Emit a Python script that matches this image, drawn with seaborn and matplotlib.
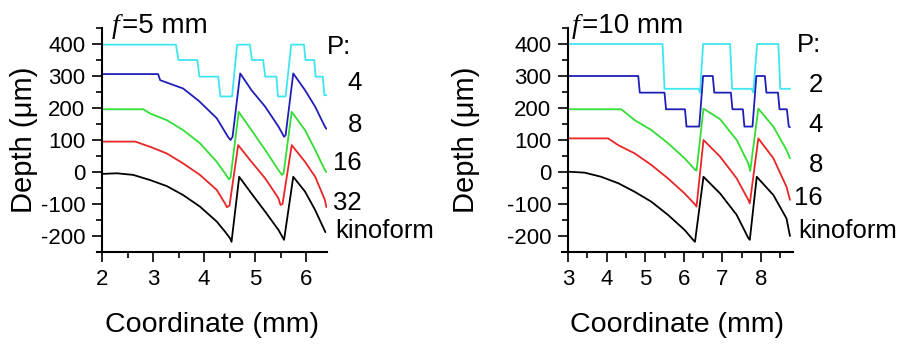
import matplotlib
matplotlib.use('Agg')
import matplotlib.pyplot as plt
import seaborn as sns
from matplotlib.ticker import MultipleLocator

# ---------------- data ----------------
# Left panel, f = 5 mm
l_kino_x = [2.00, 2.29, 2.61, 2.94, 3.27, 3.59, 3.92, 4.25, 4.41, 4.51, 4.54, 4.69, 4.93, 5.20, 5.46, 5.57, 5.75, 5.98, 6.18, 6.38]
l_kino_y = [-6, -4, -9, -25, -44, -72, -108, -155, -186, -207, -218, -15, -67, -124, -181, -212, -15, -61, -119, -188]
l_p32_x = [2.00, 2.65, 2.94, 3.27, 3.59, 3.92, 4.25, 4.41, 4.45, 4.50, 4.67, 4.93, 5.20, 5.46, 5.50, 5.54, 5.72, 5.98, 6.18, 6.37, 6.40]
l_p32_y = [95, 95, 79, 58, 27, -9, -56, -98, -110, -105, 84, 32, -20, -82, -103, -100, 84, 32, -15, -87, -110]
l_p16_x = [2.00, 2.81, 2.94, 3.27, 3.59, 3.92, 4.25, 4.41, 4.49, 4.52, 4.68, 4.93, 5.20, 5.46, 5.53, 5.56, 5.72, 5.98, 6.18, 6.37, 6.40]
l_p16_y = [196, 196, 183, 162, 131, 90, 32, -4, -23, -18, 188, 131, 69, 6, -9, -5, 188, 131, 69, 6, 0]
l_p8_x = [2.00, 3.10, 3.14, 3.59, 3.90, 4.25, 4.47, 4.52, 4.56, 4.71, 4.93, 5.20, 5.46, 5.57, 5.60, 5.75, 5.98, 6.18, 6.37, 6.40]
l_p8_y = [306, 306, 287, 261, 222, 168, 110, 100, 110, 308, 256, 204, 142, 110, 115, 308, 256, 204, 142, 135]
l_p4_x = [2.00, 3.45, 3.50, 3.87, 3.91, 4.28, 4.32, 4.55, 4.65, 4.90, 4.94, 5.16, 5.20, 5.42, 5.45, 5.60, 5.71, 5.96, 5.99, 6.16, 6.19, 6.33, 6.36, 6.40]
l_p4_y = [398, 398, 350, 350, 298, 298, 236, 236, 398, 398, 350, 350, 298, 298, 236, 236, 398, 398, 350, 350, 298, 298, 240, 240]

# Right panel, f = 10 mm
r_kino_x = [3.00, 3.43, 3.86, 4.30, 4.73, 5.16, 5.59, 6.02, 6.24, 6.29, 6.51, 6.94, 7.37, 7.67, 7.71, 7.89, 8.32, 8.66, 8.75]
r_kino_y = [1, -2, -15, -35, -62, -93, -134, -181, -212, -218, -15, -67, -134, -206, -212, -15, -72, -145, -200]
r_p16_x = [3.00, 4.04, 4.30, 4.73, 5.16, 5.59, 6.02, 6.28, 6.33, 6.51, 6.94, 7.37, 7.67, 7.71, 7.93, 8.32, 8.66, 8.75]
r_p16_y = [105, 105, 84, 58, 22, -20, -67, -100, -108, 100, 48, -20, -87, -98, 105, 43, -46, -87]
r_p8_x = [3.00, 4.38, 4.73, 5.16, 5.59, 6.02, 6.30, 6.33, 6.51, 6.94, 7.37, 7.67, 7.72, 7.93, 8.32, 8.66, 8.75]
r_p8_y = [196, 196, 162, 131, 90, 43, 6, 4, 198, 165, 100, 27, 3, 198, 142, 69, 43]
r_p4_x = [3.00, 4.82, 4.86, 5.50, 5.54, 6.03, 6.07, 6.40, 6.50, 6.75, 6.79, 7.22, 7.26, 7.53, 7.57, 7.78, 7.88, 8.10, 8.14, 8.44, 8.48, 8.67, 8.72, 8.75]
r_p4_y = [300, 300, 248, 248, 196, 196, 142, 142, 300, 300, 248, 248, 196, 196, 142, 142, 300, 300, 248, 248, 196, 196, 142, 140]
r_p2_x = [3.00, 5.45, 5.50, 6.38, 6.42, 6.50, 7.20, 7.25, 7.76, 7.80, 7.90, 8.45, 8.50, 8.75]
r_p2_y = [400, 400, 260, 260, 248, 400, 400, 260, 260, 248, 400, 400, 260, 260]

left_labels = ["4", "8", "16", "32", "kinoform"]
right_labels = ["2", "4", "8", "16", "kinoform"]
left_title = "=5 mm"
right_title = "=10 mm"

COLORS = ["#3ee6f0", "#1f1fb8", "#33dd33", "#e82626", "#000000"]

# ---------------- style ----------------
sns.set_theme(style="ticks")
plt.rcParams['font.family'] = ['Liberation Sans', 'DejaVu Sans']
plt.rcParams['axes.unicode_minus'] = False
plt.rcParams['text.color'] = 'black'

W, H = 902, 344
fig = plt.figure(figsize=(W / 100, H / 100), dpi=100)
ax1 = fig.add_axes([97 / W, 92 / H, 230 / W, 224 / H])
ax2 = fig.add_axes([562 / W, 92 / H, 231 / W, 224 / H])

left_series = [(l_p4_x, l_p4_y), (l_p8_x, l_p8_y), (l_p16_x, l_p16_y), (l_p32_x, l_p32_y), (l_kino_x, l_kino_y)]
right_series = [(r_p2_x, r_p2_y), (r_p4_x, r_p4_y), (r_p8_x, r_p8_y), (r_p16_x, r_p16_y), (r_kino_x, r_kino_y)]

for ax, series in ((ax1, left_series), (ax2, right_series)):
    for (xs, ys), c in zip(series, COLORS):
        sns.lineplot(x=xs, y=ys, ax=ax, color=c, lw=1.3, estimator=None, sort=False)

def style_axis(ax, x0, xlim, xmajor_max):
    ax.set_xlim(*xlim)
    ax.set_ylim(-250, 450)
    ax.spines['top'].set_visible(False)
    ax.spines['right'].set_visible(False)
    ax.spines['left'].set_position(('data', x0))
    for s in ('left', 'bottom'):
        ax.spines[s].set_color('black')
        ax.spines[s].set_linewidth(1.5)
    ax.set_xticks(list(range(x0, xmajor_max + 1)))
    ax.xaxis.set_minor_locator(MultipleLocator(0.5))
    ax.set_yticks([-200, -100, 0, 100, 200, 300, 400])
    ax.yaxis.set_minor_locator(MultipleLocator(50))
    ax.tick_params(which='major', direction='out', length=7, width=1.2, color='black',
                   labelsize=16, pad=5, labelcolor='black')
    ax.tick_params(which='minor', direction='out', length=4, width=1.2, color='black')
    ax.set_xlabel("Coordinate (mm)", fontsize=20.5, color='black')
    ax.set_ylabel("Depth (μm)", fontsize=21, color='black', va='center')
    ax.set_facecolor('white')

style_axis(ax1, 2, (2 - 5 / 51, 2 + 225 / 51), 6)
style_axis(ax2, 3, (3 - 6 / 38.6, 3 + 225 / 38.6), 8)
ax1.xaxis.set_label_coords(0.5, -0.27)
ax2.xaxis.set_label_coords(0.5, -0.27)
ax1.yaxis.set_label_coords(-0.317, 0.5)
ax2.yaxis.set_label_coords(-0.416, 0.5)

def px(x, y):
    return x / W, 1 - y / H

# titles
fig.text(*px(112, 33), "f", fontsize=20, style='italic', family='Liberation Serif', va='baseline', ha='left', color='black')
fig.text(*px(122, 33), left_title, fontsize=20, va='baseline', ha='left', color='black')
fig.text(*px(572, 33), "f", fontsize=20, style='italic', family='Liberation Serif', va='baseline', ha='left', color='black')
fig.text(*px(582, 33), right_title, fontsize=20, va='baseline', ha='left', color='black')

# P labels
LS = 18.5
fig.text(*px(327, 47), "P:", fontsize=LS, va='center', ha='left', color='black')
for lab, yy in zip(left_labels[:4], [83, 125, 163, 203]):
    fig.text(*px(362, yy), lab, fontsize=LS, va='center', ha='right', color='black')
fig.text(*px(335, 231), left_labels[4], fontsize=LS, va='center', ha='left', color='black')

fig.text(*px(797, 45), "P:", fontsize=LS, va='center', ha='left', color='black')
for lab, yy in zip(right_labels[:4], [85, 125, 165, 198]):
    fig.text(*px(823, yy), lab, fontsize=LS, va='center', ha='right', color='black')
fig.text(*px(798, 231), right_labels[4], fontsize=LS, va='center', ha='left', color='black')

fig.savefig("out.png", dpi=100, facecolor='white')
